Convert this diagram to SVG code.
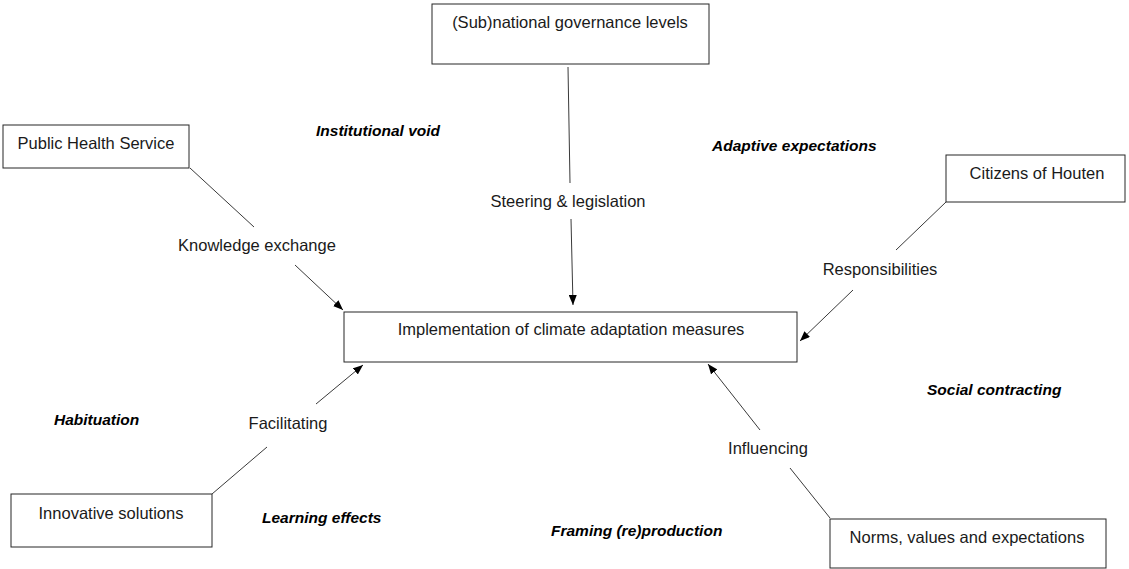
<svg xmlns="http://www.w3.org/2000/svg" width="1129" height="569" viewBox="0 0 1129 569">
  <style>
    .box { fill: #ffffff; stroke: #262626; stroke-width: 1; }
    .lbl { font-family: "Liberation Sans", Arial, sans-serif; font-size: 16.5px; fill: #1a1a1a; text-anchor: middle; }
    .mech { font-family: "Liberation Sans", Arial, sans-serif; font-size: 15.5px; font-weight: bold; font-style: italic; fill: #000000; }
    .con { stroke: #3a3a3a; stroke-width: 1; fill: none; }
  </style>
  <defs>
    <marker id="arrow" viewBox="0 0 10 8" refX="10" refY="4" markerWidth="10" markerHeight="8" markerUnits="userSpaceOnUse" orient="auto">
      <path d="M0,0 L10,4 L0,8 z" fill="#000000"/>
    </marker>
  </defs>

  <rect width="1129" height="569" fill="#ffffff"/>

  <g id="node-governance">
    <rect class="box" x="432" y="4" width="277" height="60"/>
    <text class="lbl" x="570" y="28">(Sub)national governance levels</text>
  </g>

  <g id="node-health">
    <rect class="box" x="3" y="125" width="186" height="43"/>
    <text class="lbl" x="96" y="149">Public Health Service</text>
  </g>

  <g id="node-citizens">
    <rect class="box" x="946" y="155" width="179" height="47"/>
    <text class="lbl" x="1037" y="179">Citizens of Houten</text>
  </g>

  <g id="node-implementation">
    <rect class="box" x="344" y="312" width="453" height="50"/>
    <text class="lbl" x="571" y="335">Implementation of climate adaptation measures</text>
  </g>

  <g id="node-innovative">
    <rect class="box" x="11" y="494" width="201" height="53"/>
    <text class="lbl" x="111" y="519">Innovative solutions</text>
  </g>

  <g id="node-norms">
    <rect class="box" x="830" y="519" width="276" height="49"/>
    <text class="lbl" x="967" y="543">Norms, values and expectations</text>
  </g>

  <!-- connectors: actor to label, then label to the central outcome -->
  <g id="connectors">
    <line class="con" x1="568" y1="67" x2="570" y2="183"/>
    <line class="con" x1="571" y1="219" x2="573" y2="305" marker-end="url(#arrow)"/>

    <line class="con" x1="190" y1="168" x2="254" y2="227"/>
    <line class="con" x1="295" y1="265" x2="343" y2="310" marker-end="url(#arrow)"/>

    <line class="con" x1="946" y1="202" x2="896" y2="250"/>
    <line class="con" x1="853" y1="290" x2="800" y2="341" marker-end="url(#arrow)"/>

    <line class="con" x1="212" y1="494" x2="267" y2="447"/>
    <line class="con" x1="316" y1="404" x2="363" y2="365" marker-end="url(#arrow)"/>

    <line class="con" x1="830" y1="518" x2="790" y2="468"/>
    <line class="con" x1="760" y1="430" x2="708" y2="364" marker-end="url(#arrow)"/>
  </g>

  <!-- relation labels -->
  <g id="relation-labels">
    <text class="lbl" x="568" y="207">Steering &amp; legislation</text>
    <text class="lbl" x="257" y="251">Knowledge exchange</text>
    <text class="lbl" x="880" y="275">Responsibilities</text>
    <text class="lbl" x="288" y="429">Facilitating</text>
    <text class="lbl" x="768" y="454">Influencing</text>
  </g>

  <!-- mechanisms -->
  <g id="mechanisms">
    <text class="mech" x="316" y="136">Institutional void</text>
    <text class="mech" x="712" y="151">Adaptive expectations</text>
    <text class="mech" x="927" y="395">Social contracting</text>
    <text class="mech" x="54" y="425">Habituation</text>
    <text class="mech" x="262" y="523">Learning effects</text>
    <text class="mech" x="551" y="536">Framing (re)production</text>
  </g>
</svg>
